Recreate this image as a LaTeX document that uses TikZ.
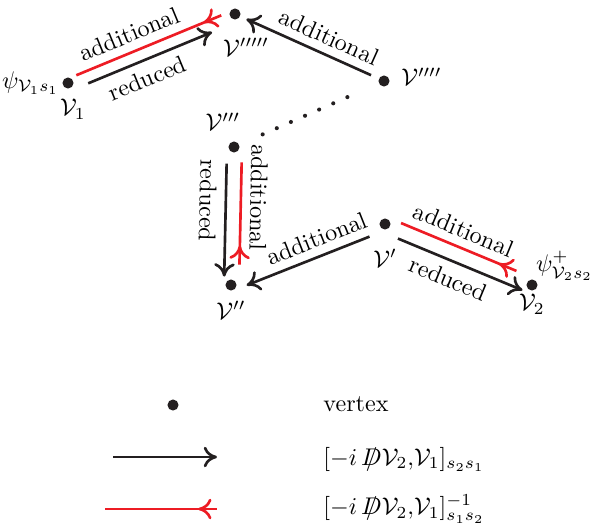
\documentclass[tikz,border=0pt]{standalone}
\usepackage{amsmath,amssymb}
\usepackage{tikz}
\usetikzlibrary{arrows.meta,calc,positioning,decorations.markings}
\definecolor{vxblack}{RGB}{35,31,32}
\definecolor{vxred}{RGB}{237,28,36}
\newcommand{\Dslash}{\mbox{\ooalign{$D$\cr\hidewidth$/$\hidewidth\cr}}}

\begin{document}
\begin{tikzpicture}[x=0.415pt,y=-0.415pt,>={To[length=5.5pt,width=8.5pt]},
    vx/.style={circle,fill=vxblack,inner sep=0pt,minimum size=4.6pt},
    lab/.style={inner sep=1pt},
    blk/.style={draw=vxblack,line width=1.1pt,->},
    rdl/.style={draw=vxred,line width=1.1pt,postaction={decorate},
      decoration={markings,mark=at position #1 with {\arrowreversed{To[length=5.5pt,width=8.5pt]}}}},
    dotl/.style={draw=vxblack,line width=1.7pt,line cap=round,dash pattern=on 0pt off 6.4pt}]
  \useasboundingbox (0,0) rectangle (593,531);
  % vertices
  \node[vx] (v1) at (68,83) {};
  \node[vx] (vppppp) at (235,14) {};
  \node[vx] (vpppp) at (384,81) {};
  \node[vx] (vppp) at (234,147) {};
  \node[vx] (vpp) at (231,285) {};
  \node[vx] (vp) at (385,224) {};
  \node[vx] (v2) at (532,285) {};
  \node[lab,below=3pt of v1,xshift=2pt] (v1lab) {$\mathcal{V}_1$};
  \node[lab,left=0pt of v1] (psi1) {$\psi_{\mathcal{V}_1 s_1}$};
  \node[lab,below=6.3pt of vppppp,xshift=4.6pt] (vppppplab) {$\mathcal{V}'''''$};
  \node[lab,right=3.5pt of vpppp,yshift=1.7pt] (vpppplab) {$\mathcal{V}''''$};
  \node[lab,above=3pt of vppp,xshift=-4.6pt] (vppplab) {$\mathcal{V}'''$};
  \node[lab,below=3pt of vpp] (vpplab) {$\mathcal{V}''$};
  \node[lab,below=6.7pt of vp] (vplab) {$\mathcal{V}'$};
  \node[lab,below=0pt of v2] (v2lab) {$\mathcal{V}_2$};
  \node[lab,above right=-1.3pt and -1.3pt of v2] (psi2) {$\psi^{+}_{\mathcal{V}_2 s_2}$};
  % edges
  \draw[rdl=-10.8pt,shorten <=1.9pt,shorten >=3pt,transform canvas={shift={(-1.5,-3.7)}}]
    (v1) -- node[pos=.41,sloped,above] (ta1) {additional} (vppppp);
  \draw[blk,shorten <=5.2pt,shorten >=9.2pt,transform canvas={shift={(3.1,7.4)}}]
    (v1) -- node[pos=.41,sloped,below] (tr1) {reduced} (vppppp);
  \draw[blk,shorten <=3.4pt,shorten >=2.7pt] (vpppp) -- node[pos=.41,sloped,above] (ta2) {additional} (vppppp);
  \draw[dotl,shorten <=10.5pt,shorten >=14.1pt] (vppp) -- (vpppp);
  \draw[blk,shorten <=4.4pt,shorten >=1pt,transform canvas={shift={(-7,0)}}]
    (vppp) -- node[pos=.38,sloped,allow upside down,below] (tr3) {reduced} (vpp);
  \draw[rdl=-13.8pt,shorten <=3.9pt,shorten >=6pt,transform canvas={shift={(8,0)}}]
    (vppp) -- node[pos=.35,sloped,allow upside down,above] (ta3) {additional} (vpp);
  \draw[blk,shorten <=5.4pt,shorten >=3.5pt,transform canvas={shift={(2.2,5.6)}}]
    (vp) -- node[pos=.41,sloped,above] (ta4) {additional} (vpp);
  \draw[rdl=-13.5pt,shorten <=3.5pt,shorten >=5.7pt,transform canvas={shift={(2.7,-6.5)}}]
    (vp) -- node[pos=.47,sloped,above] (ta5) {additional} (v2);
  \draw[blk,shorten <=4.8pt,shorten >=0.3pt,transform canvas={shift={(-3.3,7.8)}}]
    (vp) -- node[pos=.5,sloped,below] (tr5) {reduced} (v2);
  % legend
  \node[vx] (kdot) at (173,405) {};
  \node[lab,anchor=west] (kvert) at (320.6,404) {vertex};
  \coordinate (kb1) at (113,457);
  \coordinate (kb2) at (217,457);
  \draw[blk] (kb1) -- (kb2);
  \node[lab,anchor=west] (kform1) at (320.6,459) {$[-i\,\Dslash\mathcal{V}_2{,}\mathcal{V}_1]_{s_2s_1}$};
  \coordinate (kr1) at (105,509);
  \coordinate (kr2) at (217,509);
  \draw[rdl=-7.8pt] (kr1) -- (kr2);
  \node[lab,anchor=west] (kform2) at (320.6,509) {$[-i\,\Dslash\mathcal{V}_2{,}\mathcal{V}_1]^{-1}_{s_1s_2}$};
\end{tikzpicture}
\end{document}
